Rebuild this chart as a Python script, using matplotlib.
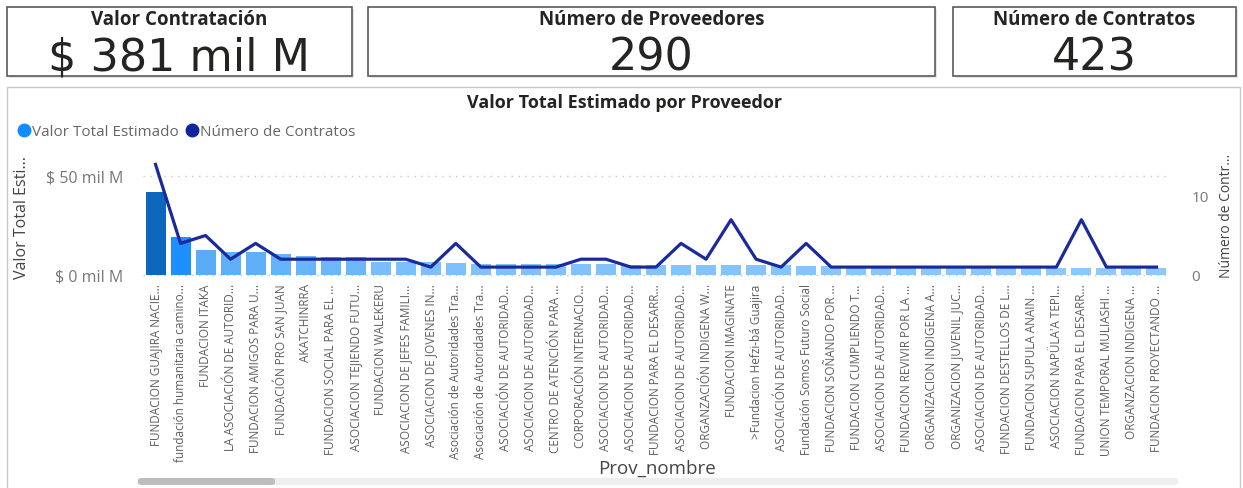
import matplotlib
matplotlib.use("Agg")
import matplotlib.pyplot as plt
import numpy as np
from matplotlib.patches import Rectangle, FancyBboxPatch
from matplotlib.lines import Line2D
from matplotlib.colors import LinearSegmentedColormap

plt.rcParams['font.family'] = ['Open Sans', 'DejaVu Sans']

# data
proveedores = [
    "FUNDACION GUAJIRA NACIE...", "fundación humanitaria camino...", "FUNDACION ITAKA",
    "LA ASOCIACIÓN DE AUTORID...", "FUNDACION AMIGOS PARA U...", "FUNDACIÓN PRO SAN JUAN",
    "AKATCHINRRA", "FUNDACION SOCIAL PARA EL ...", "ASOCIACION TEJIENDO FUTU...",
    "FUNDACION WALEKERU", "ASOCIACION DE JEFES FAMILI...", "ASOCIACION DE JOVENES IN...",
    "Asociación de Autoridades Tra...", "Asociación de Autoridades Tra...", "ASOCIACIÓN DE AUTORIDAD...",
    "ASOCIACION DE AUTORIDAD...", "CENTRO DE ATENCIÓN PARA ...", "CORPORACIÓN INTERNACIO...",
    "ASOCIACION DE AUTORIDAD...", "ASOCIACION DE AUTORIDAD...", "FUNDACION PARA EL DESARR...",
    "ASOCIACION DE AUTORIDAD...", "ORGANZACIÓN INDIGENA W...", "FUNDACION IMAGINATE",
    ">Fundacion Hefzi-bá Guajira", "ASOCIACIÓN DE AUTORIDAD...", "Fundación Somos Futuro Social",
    "FUNDACION SOÑANDO POR ...", "FUNDACION CUMPLIENDO T...", "ASOCIACION DE AUTORIDAD...",
    "FUNDACION REVIVIR POR LA ...", "ORGANIZACION INDIGENA A...", "ORGANIZACION JUVENIL JUC...",
    "ASOCIACION DE AUTORIDAD...", "FUNDACION DESTELLOS DE L...", "FUNDACION SUPULA ANAIN ...",
    "ASOCIACION NAPÜLA'A TEPI...", "FUNDACION PARA EL DESARR...", "UNION TEMPORAL MULIASHI ...",
    "ORGANZACION INDIGENA ...", "FUNDACION PROYECTANDO ...",
]
valor_mil_m = [42.0, 19.2, 12.5, 11.7, 11.5, 10.5, 9.8, 9.3, 9.2, 6.7, 6.5,
               6.5, 6.3, 5.8, 5.8, 5.8, 5.7, 5.5, 5.5, 5.3, 5.3, 5.2,
               5.1, 5.0, 4.9, 4.8, 4.7, 4.6, 4.5, 4.4, 4.3, 4.2, 4.1,
               4.0, 3.9, 3.8, 3.7, 3.6, 3.5, 3.4, 3.3]
num_contratos = [14, 4, 5, 2, 4, 2, 2, 2, 2, 2, 2, 1, 4, 1, 1, 1, 1, 2, 2, 1, 1,
                 4, 2, 7, 2, 1, 4, 1, 1, 1, 1, 1, 1, 1, 1, 1, 1, 7, 1, 1, 1]

kpi_titulos = ["Valor Contratación", "Número de Proveedores", "Número de Contratos"]
kpi_valores = ["$ 381 mil M", "290", "423"]

W, H = 1243, 489
fig = plt.figure(figsize=(W / 100, H / 100), dpi=100)
fig.patch.set_facecolor("white")

def fx(x):
    return x / W

def fy(y):
    return 1 - y / H

# KPI cards
cards = [(7, 352), (368, 935), (953, 1236)]
for (x0, x1), t, v in zip(cards, kpi_titulos, kpi_valores):
    fig.patches.append(Rectangle((fx(x0 + 2), fy(79)), fx(x1 - x0), (69) / H,
                                 transform=fig.transFigure, fc="#e6e6e6", ec="none", zorder=-3))
    fig.patches.append(Rectangle((fx(x0), fy(77)), fx(x1 - x0), (69) / H,
                                 transform=fig.transFigure, fc="white", ec="#5a5a5a", lw=1.2, zorder=-2))
    cx = fx((x0 + x1) / 2)
    fig.text(cx, fy(20), t, ha="center", va="center", fontsize=13.5, fontweight="bold", color="#252423")
    fig.text(cx, fy(58), v, ha="center", va="center", fontsize=32, family="DejaVu Sans", color="#252423")

# chart panel
fig.patches.append(Rectangle((fx(7), fy(492)), fx(1233), 404 / H, transform=fig.transFigure,
                             fc="white", ec="#c8c8c8", lw=1.0, zorder=-5))
fig.text(fx(625), fy(103), "Valor Total Estimado por Proveedor", ha="center", va="center",
         fontsize=13, fontweight="bold", color="#252423")

x = np.arange(len(proveedores))
vmin, vmax = min(valor_mil_m), max(valor_mil_m)
pos = [0, (12.5 - vmin) / (vmax - vmin), (19.2 - vmin) / (vmax - vmin), 1]
cmap = LinearSegmentedColormap.from_list("pbi", list(zip(pos, ["#8DC9FF", "#5AACF8", "#1E8FFF", "#0F66BD"])))
colores = [cmap((v - vmin) / (vmax - vmin)) for v in valor_mil_m]

ax = fig.add_axes([fx(143), fy(276), fx(1169 - 143), 121 / H])
ax.patch.set_alpha(0)
ax.bar(x, valor_mil_m, width=0.8, color=colores, zorder=2)
ax.set_xlim(-0.5, len(x) - 0.5)
ax.set_ylim(0, 121 / 1.98)
ax.set_yticks([0, 50])
ax.set_yticklabels(["$ 0 mil M", "$ 50 mil M"])
ax.axhline(50, color="#c8c8c8", ls=(0, (1, 4)), lw=1, zorder=1, clip_on=False)
ax.axhline(0, color="#c8c8c8", ls=(0, (1, 4)), lw=1, zorder=1, clip_on=False)
ax.set_xticks(x)
ax.set_xticklabels(proveedores, rotation=90, ha="center", va="top", fontsize=8.5, color="#605E5C")
ax.tick_params(axis="both", length=0)
ax.tick_params(axis="x", pad=6)
ax.tick_params(axis="y", pad=14, labelsize=11.5, labelcolor="#777777")
for s in ax.spines.values():
    s.set_visible(False)

ax2 = ax.twinx()
ax2.plot(x, num_contratos, color="#1A2A9C", lw=2.3, zorder=3)
ax2.set_ylim(0, 121 / 7.9)
ax2.set_yticks([0, 10])
ax2.tick_params(axis="y", length=0, pad=16, labelsize=11, labelcolor="#777777")
for s in ax2.spines.values():
    s.set_visible(False)

# axis titles
fig.text(fx(22), fy(218), "Valor Total Esti...", rotation=90, ha="center", va="center",
         fontsize=11.5, color="#444444")
fig.text(fx(1226), fy(216), "Número de Contr...", rotation=90, ha="center", va="center",
         fontsize=10, color="#444444")
fig.text(fx(657), fy(469), "Prov_nombre", ha="center", va="center", fontsize=13.5, color="#444444")

# legend
handles = [Line2D([], [], marker="o", ls="none", color="#118DFF", markersize=9),
           Line2D([], [], marker="o", ls="none", color="#12239E", markersize=9)]
fig.legend(handles, ["Valor Total Estimado", "Número de Contratos"], loc="center left",
           bbox_to_anchor=(fx(9), fy(133)), ncol=2, frameon=False, handletextpad=0.0,
           columnspacing=0.4, handlelength=1.0, fontsize=11, labelcolor="#666666", borderpad=0)

# scrollbar
fig.patches.append(FancyBboxPatch((fx(138), fy(486)), fx(1040), 7 / H, transform=fig.transFigure,
                                  boxstyle="round,pad=0,rounding_size=0.004", fc="#eeeeee", ec="none"))
fig.patches.append(FancyBboxPatch((fx(138), fy(486)), fx(137), 7 / H, transform=fig.transFigure,
                                  boxstyle="round,pad=0,rounding_size=0.004", fc="#bdbdbd", ec="none"))

fig.savefig("out.png", dpi=100)
